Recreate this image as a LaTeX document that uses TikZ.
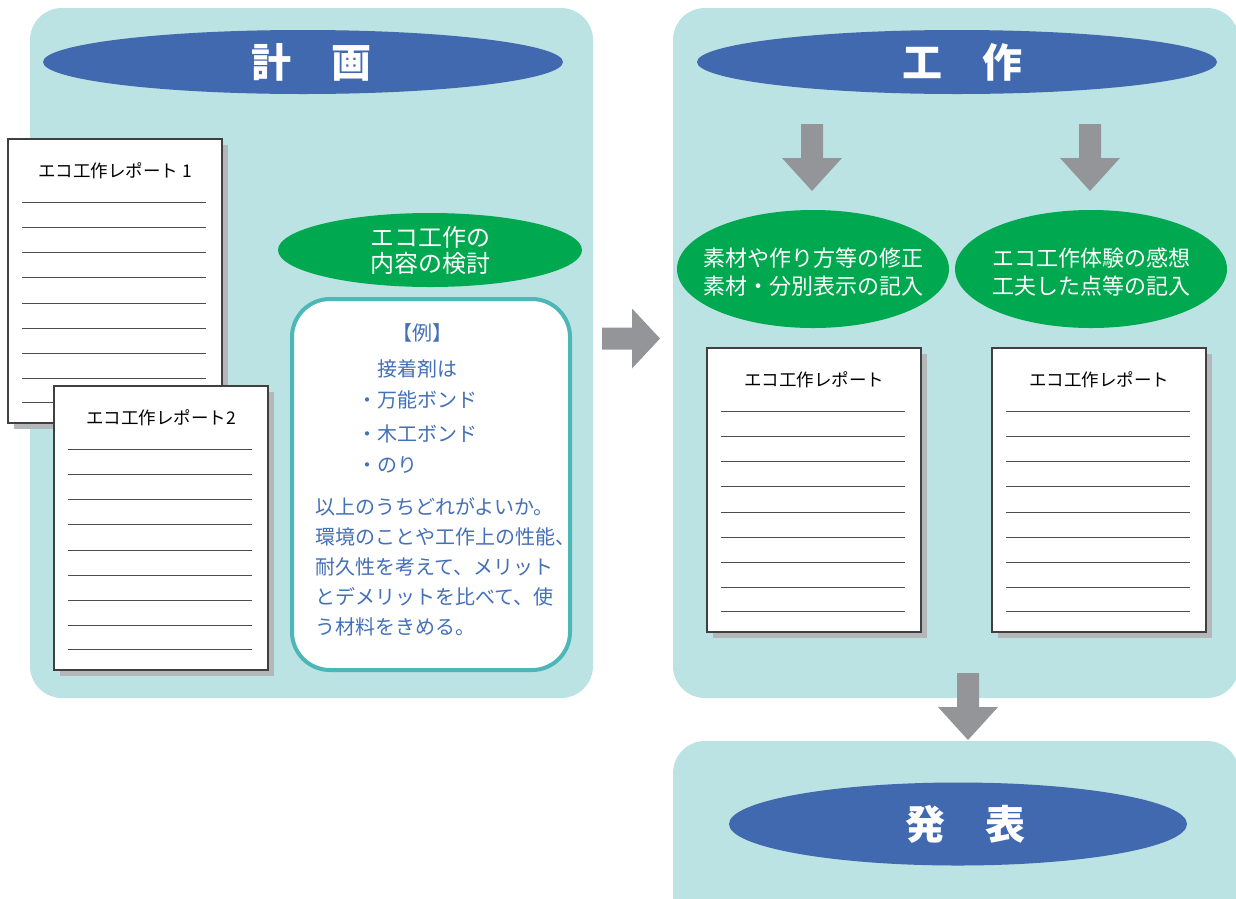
\documentclass[tikz,border=0pt]{standalone}
\usepackage{fontspec}
\setmainfont{Noto Sans CJK JP}
\usetikzlibrary{shapes.geometric,calc}
\definecolor{panelcyan}{HTML}{BCE3E3}
\definecolor{titleblue}{HTML}{4169B0}
\definecolor{ecogreen}{HTML}{00A94F}
\definecolor{arrowgray}{HTML}{939598}
\definecolor{frameteal}{HTML}{4DB6B7}
\definecolor{textblue}{HTML}{4470B8}
\definecolor{shadowgray}{HTML}{B5B6BA}
\tikzset{
  panelbox/.style={fill=panelcyan, rounded corners=32, inner sep=0, outer sep=0},
  titleell/.style={ellipse, fill=titleblue, inner sep=0},
  titletext/.style={inner sep=0, text=white,
    font=\fontsize{40}{44}\selectfont\bfseries},
  greenell/.style={ellipse, fill=ecogreen, inner sep=0},
  whitetext/.style={text=white, align=center, inner sep=0,
    font=\fontsize{22}{28}\selectfont},
  sheetbox/.style={draw=black!75, line width=1.2, fill=white, inner sep=0, outer sep=0,
    minimum width=214, minimum height=284},
  sheettitle/.style={inner sep=0, font=\fontsize{17.5}{20}\selectfont},
  sheetline/.style={draw=black!70, line width=1},
  bluetext/.style={text=textblue, inner sep=0, font=\fontsize{20}{30}\selectfont},
  downarr/.pic={\fill[arrowgray] (-11,0) -- (11,0) -- (11,34) -- (30,34) -- (0,67)
      -- (-30,34) -- (-11,34) -- cycle;},
  rightarr/.pic={\fill[arrowgray] (0,-11) -- (30,-11) -- (30,-30) -- (58,0) -- (30,30)
      -- (30,11) -- (0,11) -- cycle;}
}
\newcommand\ecosheet[4]{%
  \fill[shadowgray] (#2+6,#3+6) rectangle ++(214,284);
  \node[sheetbox, anchor=north west] (#1) at (#2,#3) {};
  \node[sheettitle] (#1-t) at ($(#1.north)+(0,32)$) {#4};
  \foreach \d in {63,88,113,138,164,189,214,239,263}
    \draw[sheetline] ($(#1.north west)+(14,\d)$) -- ++(184,0);
}
\begin{document}
\begin{tikzpicture}[x=1pt,y=-1pt]
\useasboundingbox (0,0) rectangle (1236,898);
% panels
\node[panelbox, minimum width=563, minimum height=690] (plan) at (311.5,353) {};
\node[panelbox, minimum width=566, minimum height=690] (work) at (956,353) {};
\node[panelbox, minimum width=566, minimum height=220] (pres) at (956,851) {};
% titles
\node[titleell, minimum width=520, minimum height=64] (planT) at (303,62) {};
\node[titletext] (planTt) at ($(planT.center)+(8,0)$) {計　画};
\node[titleell, minimum width=520, minimum height=64] (workT) at (957,62) {};
\node[titletext] (workTt) at ($(workT.center)+(5,0)$) {工　作};
\node[titleell, minimum width=458, minimum height=83] (presT) at (958,824) {};
\node[titletext] (presTt) at ($(presT.center)+(7,0)$) {発　表};
% left sheets
\ecosheet{s1}{8}{139}{エコ工作レポート 1}
\ecosheet{s2}{54}{386}{エコ工作レポート2}
% green ellipse in plan
\node[greenell, minimum width=304, minimum height=74] (g0) at (430,250) {};
\node[whitetext, font=\fontsize{24}{26}\selectfont] (g0t) at (g0.center) {エコ工作の\\内容の検討};
% example box
\node[draw=frameteal, line width=4, fill=white, rounded corners=38,
      minimum width=278, minimum height=371, inner sep=0] (ex) at (431,484.5) {};
\node[bluetext] (ex1) at (422,333) {【例】};
\node[bluetext, anchor=west] (ex2) at (377,369) {接着剤は};
\node[bluetext, anchor=west] (ex3) at (357,400) {・万能ボンド};
\node[bluetext, anchor=west] (ex4) at (357,434) {・木工ボンド};
\node[bluetext, anchor=west] (ex5) at (357,465) {・のり};
\node[bluetext, anchor=west] (ex6) at (315,507) {以上のうちどれがよいか。};
\node[bluetext, anchor=west] (ex7) at (315,537) {環境のことや工作上の性能、};
\node[bluetext, anchor=west] (ex8) at (315,567) {耐久性を考えて、メリット};
\node[bluetext, anchor=west] (ex9) at (315,597) {とデメリットを比べて、使};
\node[bluetext, anchor=west] (ex10) at (315,627) {う材料をきめる。};
% arrows
\pic at (602,338.5) {rightarr};
\pic at (812,124) {downarr};
\pic at (1090,124) {downarr};
\pic at (968,673) {downarr};
% green ellipses in work
\node[greenell, minimum width=272, minimum height=118] (g1) at (813,269) {};
\node[whitetext] (g1t) at ($(g1.center)+(0,3)$) {素材や作り方等の修正\\素材・分別表示の記入};
\node[greenell, minimum width=272, minimum height=118] (g2) at (1091,269) {};
\node[whitetext] (g2t) at ($(g2.center)+(0,3)$) {エコ工作体験の感想\\工夫した点等の記入};
% right sheets
\ecosheet{s3}{707}{348}{エコ工作レポート}
\ecosheet{s4}{992}{348}{エコ工作レポート}
\end{tikzpicture}
\end{document}
